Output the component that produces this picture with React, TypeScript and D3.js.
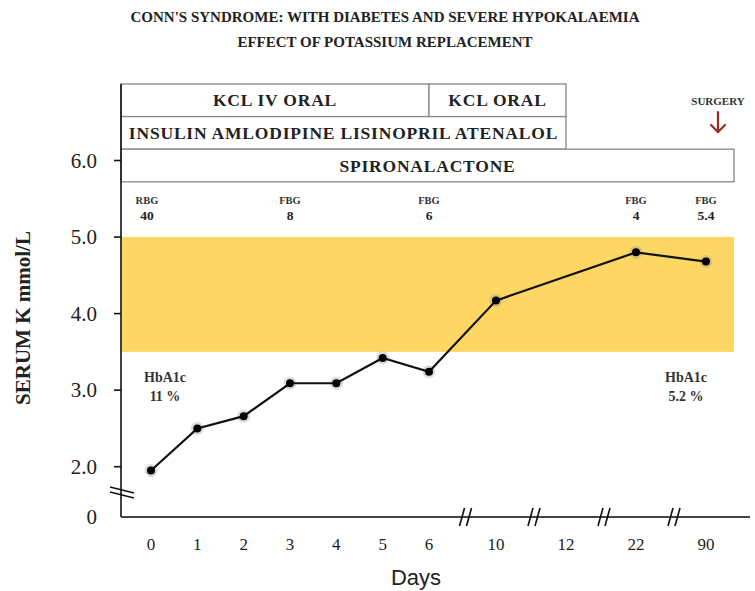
import React from "react";
import * as d3 from "d3";

const titleLines = [
  "CONN'S SYNDROME: WITH DIABETES AND SEVERE HYPOKALAEMIA",
  "EFFECT OF POTASSIUM REPLACEMENT",
];
const dayLabels = ["0", "1", "2", "3", "4", "5", "6", "10", "12", "22", "90"];
const earlyDays = [0, 6];
const lateDays = ["10", "12", "22", "90"];
const measuredDays = ["0", "1", "2", "3", "4", "5", "6", "10", "22", "90"];
const serumK = [1.95, 2.5, 2.66, 3.09, 3.09, 3.42, 3.24, 4.17, 4.8, 4.68];
const yTicks = [2, 3, 4, 5, 6];
const normalRange = [3.5, 5.0];
const glucoseDays = ["0", "3", "6", "22", "90"];
const glucoseTypes = ["RBG", "FBG", "FBG", "FBG", "FBG"];
const glucoseValues = ["40", "8", "6", "4", "5.4"];
const hba1cValues = ["11 %", "5.2 %"];
const therapyLabels = [
  "KCL IV ORAL",
  "KCL ORAL",
  "INSULIN AMLODIPINE LISINOPRIL ATENALOL",
  "SPIRONALACTONE",
];
const therapyFrom = ["start", "6", "start", "start"];
const therapyTo = ["6", "12", "12", "end"];
const therapyRow = [0, 0, 1, 2];
const breaksAfter = ["6", "10", "12", "22"];

const W = 755;
const H = 591;
const axisX = 121;
const axisY = 517;
const plotRight = 734;
const serif = "'Liberation Serif', 'Times New Roman', serif";

export default function App() {
  const y = d3.scaleLinear().domain([2, 6]).range([466.7, 160.5]);
  const xEarly = d3.scaleLinear().domain(earlyDays).range([151, 429]);
  const xLate = d3.scalePoint<string>().domain(lateDays).range([496, 706]);
  const xPos = (d: string): number => {
    if (d === "start") return axisX;
    if (d === "end") return plotRight;
    const n = +d;
    return n <= 6 ? xEarly(n) : (xLate(d) as number);
  };
  const rowTop = 84;
  const rowH = 32.6;

  const pts = measuredDays.map((d, i) => [xPos(d), y(serumK[i])] as [number, number]);
  const line = d3.line()(pts) || "";

  return (
    <svg
      width={W}
      height={H}
      style={{ position: "absolute", left: 0, top: 0, background: "#fff" }}
      fontFamily={serif}
    >
      {titleLines.map((t, i) => (
        <text
          key={i}
          x={385}
          y={22 + i * 25}
          textAnchor="middle"
          fontSize={15}
          fontWeight="bold"
          fill="#222"
        >
          {t}
        </text>
      ))}

      <rect
        x={axisX + 1}
        y={y(normalRange[1])}
        width={plotRight - axisX - 1}
        height={y(normalRange[0]) - y(normalRange[1])}
        fill="#FDD663"
      />

      {therapyLabels.map((t, i) => {
        const x0 = xPos(therapyFrom[i]);
        const x1 = xPos(therapyTo[i]);
        const top = rowTop + therapyRow[i] * rowH;
        return (
          <g key={t}>
            <rect
              x={x0}
              y={top}
              width={x1 - x0}
              height={rowH}
              fill="#fff"
              stroke="#888"
              strokeWidth={1.3}
            />
            <text
              x={(x0 + x1) / 2}
              y={top + rowH / 2 + 6}
              textAnchor="middle"
              fontSize={17.5}
              letterSpacing={0.8}
              fontWeight="bold"
              fill="#222"
            >
              {t}
            </text>
          </g>
        );
      })}

      <text x={718} y={105} textAnchor="middle" fontSize={11} fontWeight="bold" fill="#333">
        SURGERY
      </text>
      <g stroke="#9B2B20" strokeWidth={2.2} fill="none" strokeLinecap="round">
        <line x1={718} y1={112} x2={718} y2={132} />
        <polyline points={`${711},${125} ${718},${132} ${725},${125}`} />
      </g>

      <line x1={axisX} y1={rowTop} x2={axisX} y2={axisY} stroke="#111" strokeWidth={1.6} />
      {yTicks.map((t) => (
        <g key={t}>
          <line x1={axisX - 7} y1={y(t)} x2={axisX} y2={y(t)} stroke="#111" strokeWidth={1.6} />
          <text x={97} y={y(t) + 7} textAnchor="end" fontSize={21} fill="#222">
            {t.toFixed(1)}
          </text>
        </g>
      ))}
      <text x={97} y={axisY + 7} textAnchor="end" fontSize={21} fill="#222">
        0
      </text>
      <g stroke="#111" strokeWidth={1.6}>
        <line x1={110} y1={487} x2={134} y2={493} />
        <line x1={110} y1={492} x2={134} y2={498} />
      </g>

      <line x1={axisX} y1={axisY} x2={750} y2={axisY} stroke="#444" strokeWidth={2} />
      {breaksAfter.map((d, i) => {
        const next = dayLabels[dayLabels.indexOf(d) + 1];
        const bx = (xPos(d) + xPos(next)) / 2 + 3;
        return (
          <g key={i} stroke="#111" strokeWidth={1.6}>
            <line x1={bx - 6} y1={axisY + 9} x2={bx - 1} y2={axisY - 9} />
            <line x1={bx + 1} y1={axisY + 9} x2={bx + 6} y2={axisY - 9} />
          </g>
        );
      })}
      {dayLabels.map((d) => (
        <text key={d} x={xPos(d)} y={550} textAnchor="middle" fontSize={17} fill="#222">
          {d}
        </text>
      ))}
      <text
        x={416}
        y={585}
        textAnchor="middle"
        fontSize={22}
        fontFamily="'Liberation Sans', Arial, sans-serif"
        fill="#222"
      >
        Days
      </text>
      <text
        transform={`translate(30,318) rotate(-90)`}
        textAnchor="middle"
        fontSize={21}
        fontWeight="bold"
        fill="#222"
      >
        SERUM K mmol/L
      </text>

      {glucoseDays.map((d, i) => (
        <g key={i}>
          <text x={xPos(d) - (i === 0 ? 4 : 0)} y={204} textAnchor="middle" fontSize={10.5} fontWeight="bold" fill="#333">
            {glucoseTypes[i]}
          </text>
          <text x={xPos(d) - (i === 0 ? 4 : 0)} y={220} textAnchor="middle" fontSize={13.5} fontWeight="bold" fill="#222">
            {glucoseValues[i]}
          </text>
        </g>
      ))}

      {hba1cValues.map((v, i) => {
        const cx = i === 0 ? 165 : 686;
        return (
          <g key={i}>
            <text x={cx} y={382} textAnchor="middle" fontSize={14} fontWeight="bold" fill="#333">
              HbA1c
            </text>
            <text x={cx} y={401} textAnchor="middle" fontSize={14} fontWeight="bold" fill="#333">
              {v}
            </text>
          </g>
        );
      })}

      {pts.map((p, i) => (
        <circle key={"h" + i} cx={p[0]} cy={p[1]} r={6.5} fill="#999" opacity={0.35} />
      ))}
      <path d={line} fill="none" stroke="#111" strokeWidth={2.2} />
      {pts.map((p, i) => (
        <circle key={i} cx={p[0]} cy={p[1]} r={4} fill="#000" />
      ))}
    </svg>
  );
}
